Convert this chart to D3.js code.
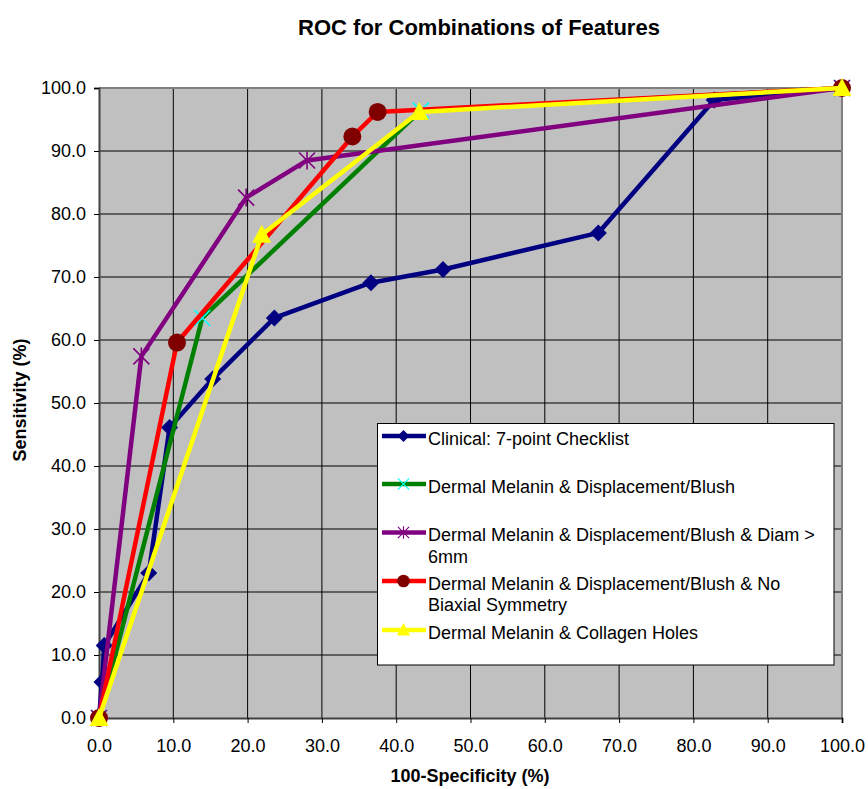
<!DOCTYPE html>
<html>
<head>
<meta charset="utf-8">
<script src="https://cdn.jsdelivr.net/npm/d3@7"></script>
<style>
  html, body { margin: 0; padding: 0; background: #fff; }
  svg { display: block; font-family: "Liberation Sans", Arial, sans-serif; }
</style>
</head>
<body>
<svg id="chart" width="868" height="789"></svg>
<script>
// ---- Data ----
const xTicks = [0, 10, 20, 30, 40, 50, 60, 70, 80, 90, 100];
const yTicks = [0, 10, 20, 30, 40, 50, 60, 70, 80, 90, 100];

const clinicalX = [0, 0.4, 0.7, 6.7, 9.5, 15.3, 23.6, 36.6, 46.3, 67.2, 82.8, 100];
const clinicalY = [0, 5.7, 11.5, 23.0, 46.1, 53.8, 63.5, 69.1, 71.2, 77.0, 98.1, 100];

const dispX = [0, 13.9, 43.3, 100];
const dispY = [0, 63.5, 96.4, 100];

const diamX = [0, 5.7, 19.8, 28.0, 100];
const diamY = [0, 57.4, 82.6, 88.5, 100];

const biaxX = [0, 10.5, 34.1, 37.5, 100];
const biaxY = [0, 59.6, 92.3, 96.2, 100];

const collX = [0, 21.9, 43.1, 100];
const collY = [0, 76.7, 96.2, 100];

const seriesNames = [
  ["Clinical: 7-point Checklist"],
  ["Dermal Melanin & Displacement/Blush"],
  ["Dermal Melanin & Displacement/Blush & Diam >", "6mm"],
  ["Dermal Melanin & Displacement/Blush & No", "Biaxial Symmetry"],
  ["Dermal Melanin & Collagen Holes"]
];

const series = [
  { xs: clinicalX, ys: clinicalY, color: "#000080", marker: "diamond", mfill: "#000080" },
  { xs: dispX, ys: dispY, color: "#008000", marker: "x", mfill: "#00FFFF" },
  { xs: diamX, ys: diamY, color: "#800080", marker: "star", mfill: "#800080" },
  { xs: biaxX, ys: biaxY, color: "#FF0000", marker: "circle", mfill: "#800000" },
  { xs: collX, ys: collY, color: "#FFFF00", marker: "triangle", mfill: "#FFFF00" }
];

// ---- Layout ----
const svg = d3.select("#chart");
const L = 99, R = 842, T = 88, B = 718;
const x = d3.scaleLinear().domain([0, 100]).range([L, R]);
const y = d3.scaleLinear().domain([0, 100]).range([B, T]);

// Title
svg.append("text").attr("x", 479).attr("y", 35).attr("text-anchor", "middle")
  .attr("font-size", 22).attr("font-weight", "bold").text("ROC for Combinations of Features");

// Plot background
svg.append("rect").attr("x", L).attr("y", T).attr("width", R - L).attr("height", B - T)
  .attr("fill", "#C0C0C0");

// Grid lines
const g = svg.append("g");
g.selectAll("line.vg").data(xTicks.slice(1, -1)).enter().append("line")
  .attr("x1", d => x(d)).attr("x2", d => x(d)).attr("y1", T).attr("y2", B)
  .attr("stroke", "#000").attr("stroke-width", 1);
g.selectAll("line.hg").data(yTicks.slice(1, -1)).enter().append("line")
  .attr("y1", d => y(d)).attr("y2", d => y(d)).attr("x1", L).attr("x2", R)
  .attr("stroke", "#000").attr("stroke-width", 1);
svg.append("line").attr("x1", L).attr("x2", R).attr("y1", y(100)).attr("y2", y(100))
  .attr("stroke", "#808080").attr("stroke-width", 2);
svg.append("line").attr("x1", R).attr("x2", R).attr("y1", T).attr("y2", B)
  .attr("stroke", "#808080").attr("stroke-width", 2);

// Axes
const xAxis = d3.axisBottom(x).tickValues(xTicks).tickSize(5).tickPadding(16)
  .tickFormat(d3.format(".1f"));
const yAxis = d3.axisLeft(y).tickValues(yTicks).tickSize(5).tickPadding(8)
  .tickFormat(d3.format(".1f"));

const gx = svg.append("g").attr("transform", `translate(0,${B})`).call(xAxis);
const gy = svg.append("g").attr("transform", `translate(${L},0)`).call(yAxis);
[gx, gy].forEach(ax => {
  ax.select(".domain").attr("stroke", "#404040").attr("stroke-width", 2);
  ax.selectAll(".tick line").attr("stroke", "#000");
  ax.selectAll(".tick text").attr("font-size", 18).attr("fill", "#000")
    .attr("font-family", "'Liberation Sans', Arial, sans-serif");
});
gx.selectAll(".tick text").attr("dy", "0.71em").attr("y", 21);

// Axis titles
svg.append("text").attr("x", 470).attr("y", 782).attr("text-anchor", "middle")
  .attr("font-size", 18).attr("font-weight", "bold").text("100-Specificity (%)");
svg.append("text").attr("transform", "translate(26,400) rotate(-90)").attr("text-anchor", "middle")
  .attr("font-size", 18).attr("font-weight", "bold").text("Sensitivity (%)");

// Marker drawing
function drawMarker(sel, type, fill) {
  if (type === "diamond") {
    sel.append("path").attr("d", "M0,-8.5L8.5,0L0,8.5L-8.5,0Z").attr("fill", fill);
  } else if (type === "x") {
    sel.append("path").attr("d", "M-8,-8L8,8M-8,8L8,-8").attr("stroke", fill)
      .attr("stroke-width", 1.6).attr("fill", "none");
  } else if (type === "star") {
    sel.append("path").attr("d", "M-8,-8L8,8M-8,8L8,-8M0,-9L0,9").attr("stroke", fill)
      .attr("stroke-width", 1.6).attr("fill", "none");
  } else if (type === "circle") {
    sel.append("circle").attr("r", 9).attr("fill", fill);
  } else if (type === "triangle") {
    sel.append("path").attr("d", "M0,-10L9.5,8L-9.5,8Z").attr("fill", fill);
  }
}

// Series
const line = d3.line().x(d => x(d[0])).y(d => y(d[1]));
series.forEach(s => {
  const pts = s.xs.map((v, i) => [v, s.ys[i]]);
  svg.append("path").datum(pts).attr("d", line).attr("fill", "none")
    .attr("stroke", s.color).attr("stroke-width", 4.5).attr("stroke-linejoin", "round");
  pts.forEach(p => {
    const m = svg.append("g").attr("transform", `translate(${x(p[0])},${y(p[1])})`);
    drawMarker(m, s.marker, s.mfill);
  });
});

// Legend
const lg = svg.append("g");
lg.append("rect").attr("x", 377.5).attr("y", 423.5).attr("width", 456.5).attr("height", 241.5)
  .attr("fill", "#fff").attr("stroke", "#000").attr("stroke-width", 1);
const rowY = [436, 484, 532.5, 581, 630];
series.forEach((s, i) => {
  const cy = rowY[i];
  lg.append("line").attr("x1", 382).attr("x2", 426).attr("y1", cy).attr("y2", cy)
    .attr("stroke", s.color).attr("stroke-width", 4.5);
  const m = lg.append("g").attr("transform", `translate(403.5,${cy}) scale(0.7)`);
  drawMarker(m, s.marker, s.mfill);
  const t = lg.append("text").attr("x", 428).attr("y", cy + 8.5).attr("font-size", 18).attr("fill", "#000");
  seriesNames[i].forEach((ln, j) => {
    t.append("tspan").attr("x", 428).attr("dy", j === 0 ? 0 : 21.7).text(ln);
  });
});
</script>
</body>
</html>
